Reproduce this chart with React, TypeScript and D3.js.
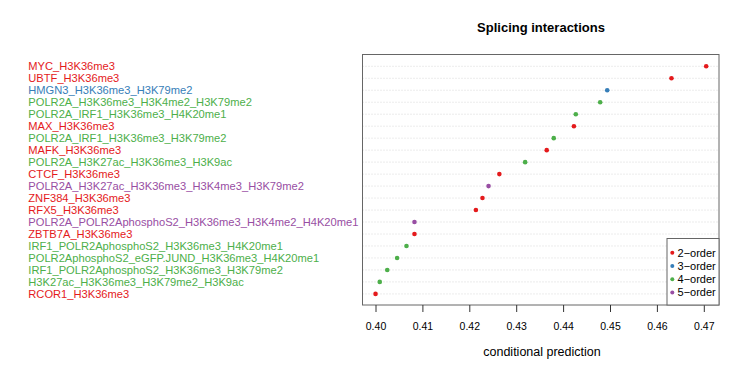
import React from "react";
import * as d3 from "d3";

const labels = [
  "MYC_H3K36me3",
  "UBTF_H3K36me3",
  "HMGN3_H3K36me3_H3K79me2",
  "POLR2A_H3K36me3_H3K4me2_H3K79me2",
  "POLR2A_IRF1_H3K36me3_H4K20me1",
  "MAX_H3K36me3",
  "POLR2A_IRF1_H3K36me3_H3K79me2",
  "MAFK_H3K36me3",
  "POLR2A_H3K27ac_H3K36me3_H3K9ac",
  "CTCF_H3K36me3",
  "POLR2A_H3K27ac_H3K36me3_H3K4me3_H3K79me2",
  "ZNF384_H3K36me3",
  "RFX5_H3K36me3",
  "POLR2A_POLR2AphosphoS2_H3K36me3_H3K4me2_H4K20me1",
  "ZBTB7A_H3K36me3",
  "IRF1_POLR2AphosphoS2_H3K36me3_H4K20me1",
  "POLR2AphosphoS2_eGFP.JUND_H3K36me3_H4K20me1",
  "IRF1_POLR2AphosphoS2_H3K36me3_H3K79me2",
  "H3K27ac_H3K36me3_H3K79me2_H3K9ac",
  "RCOR1_H3K36me3",
];
const values = [
  0.4704, 0.463, 0.4493, 0.4478, 0.4426, 0.4422, 0.4379, 0.4364, 0.4318, 0.4263,
  0.424, 0.4227, 0.4213, 0.4082, 0.4082, 0.4065, 0.4045, 0.4024, 0.4008, 0.3999,
];
const orders = [2, 2, 3, 4, 4, 2, 4, 2, 4, 2, 5, 2, 2, 5, 2, 4, 4, 4, 4, 2];
const legendOrders = [2, 3, 4, 5];
const ticks = [0.4, 0.41, 0.42, 0.43, 0.44, 0.45, 0.46, 0.47];

const colorOf: Record<number, string> = {
  2: "#E41A1C",
  3: "#377EB8",
  4: "#4DAF4A",
  5: "#984EA3",
};

export default function App() {
  const W = 747, H = 374;
  const left = 362.5, right = 719, top = 54.5, bottom = 305;
  const x = d3.scaleLinear().domain([0.4, 0.47]).range([376, 704.3]);
  const y = d3.scaleLinear().domain([0, labels.length - 1]).range([66.3, 293.9]);
  const font = "Liberation Sans, Arial, Helvetica, sans-serif";
  return (
    <svg width={W} height={H} style={{ position: "absolute", left: 0, top: 0 }} fontFamily={font}>
      <rect width={W} height={H} fill="#fff" />
      <text x={541} y={32} textAnchor="middle" fontWeight="bold" fontSize={13}>
        Splicing interactions
      </text>
      {labels.map((l, i) => (
        <g key={l}>
          <line x1={left} x2={right} y1={y(i)} y2={y(i)} stroke="#cfcfcf" strokeWidth={0.8} strokeDasharray="1,2" />
          <text x={28.3} y={y(i)} dy="0.35em" fontSize={11.15} fill={colorOf[orders[i]]}>
            {l}
          </text>
        </g>
      ))}
      {values.map((v, i) => (
        <circle key={i} cx={x(v)} cy={y(i)} r={2.3} fill={colorOf[orders[i]]} />
      ))}
      <rect x={left} y={top} width={right - left} height={bottom - top} fill="none" stroke="#666" strokeWidth={1} />
      {ticks.map((t) => (
        <g key={t}>
          <line x1={x(t)} x2={x(t)} y1={bottom} y2={312} stroke="#333" />
          <text x={x(t)} y={326} dy="0.35em" textAnchor="middle" fontSize={10.5}>
            {d3.format(".2f")(t)}
          </text>
        </g>
      ))}
      <text x={542} y={352} dy="0.35em" textAnchor="middle" fontSize={12.5}>
        conditional prediction
      </text>
      <rect x={667} y={238.5} width={right - 667} height={bottom - 238.5} fill="#fff" stroke="#666" strokeWidth={1} />
      {legendOrders.map((o, i) => (
        <g key={o}>
          <circle cx={672.3} cy={252.7 + i * 13.3} r={2} fill={colorOf[o]} />
          <text x={677.5} y={252.7 + i * 13.3} dy="0.35em" fontSize={11}>
            {o}−order
          </text>
        </g>
      ))}
    </svg>
  );
}
